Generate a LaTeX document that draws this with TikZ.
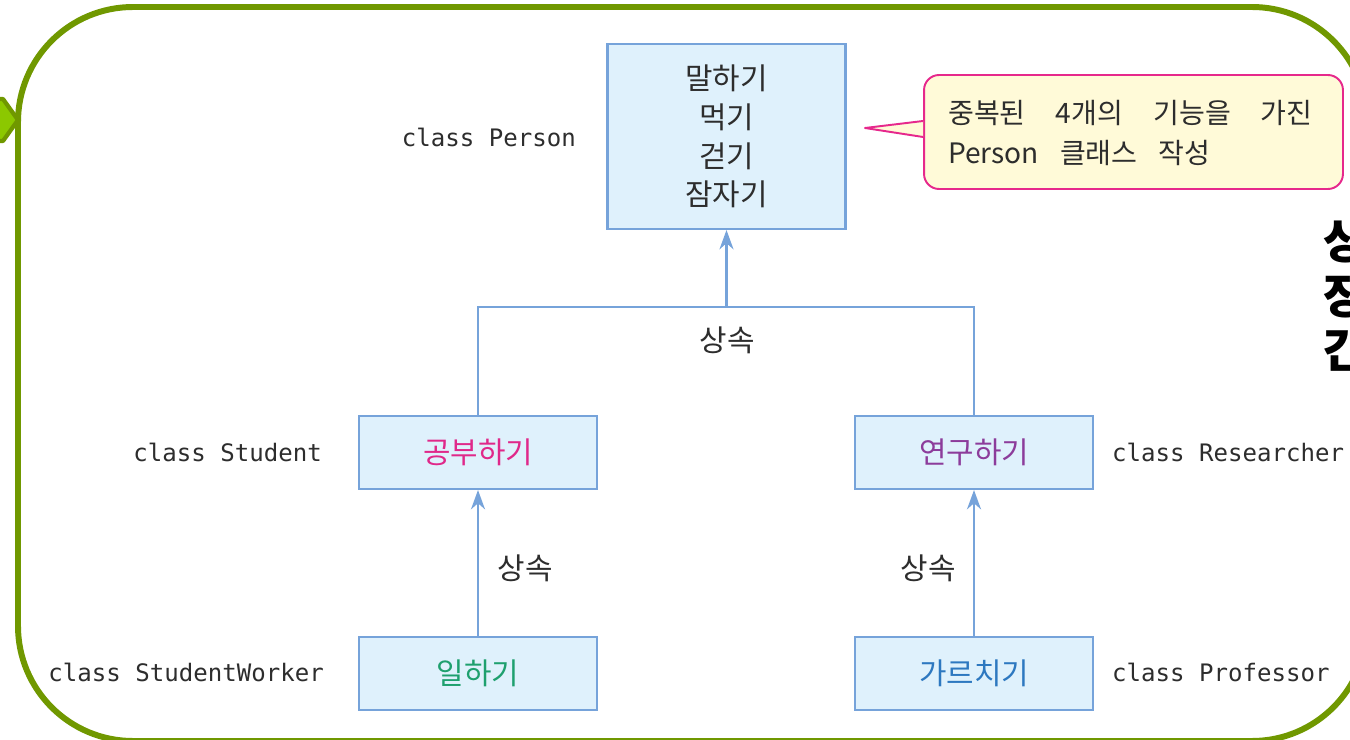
\documentclass[tikz,border=0pt]{standalone}
\usepackage{fontspec}
\setmainfont{Noto Sans CJK KR}
\setmonofont{DejaVu Sans Mono}
\usetikzlibrary{arrows.meta}
\definecolor{frameGreen}{RGB}{112,152,0}
\definecolor{arrowGreen}{RGB}{140,200,0}
\definecolor{boxFill}{RGB}{223,241,252}
\definecolor{boxLine}{RGB}{118,163,218}
\definecolor{inkGray}{RGB}{45,45,45}
\definecolor{notePink}{RGB}{230,40,140}
\definecolor{noteYellow}{RGB}{255,250,216}
\definecolor{studyPink}{RGB}{224,40,138}
\definecolor{researchPurple}{RGB}{140,60,155}
\definecolor{workGreen}{RGB}{30,160,110}
\definecolor{teachBlue}{RGB}{45,120,192}
\newcommand*{\BoxFont}{\fontsize{17}{22}\selectfont}
\newcommand*{\wgap}{\hspace{0.75em}}
\newcommand*{\wgapwide}{\hspace{1.07em}}
\newcommand*{\ClassBoxes}[1]{% #1 = list of name/x/y/color/text
  \foreach \name/\x/\y/\clr/\lbl in {#1} {
    \node [classbox, text=\clr] (\name) at (\x,\y) {\lbl};
    }%
}
\newcommand*{\ClassNames}[1]{% #1 = list of name/x/y/anchor/text
  \foreach \name/\x/\y/\anc/\lbl in {#1} {
    \node [classname, anchor=\anc] (\name) at (\x,\y) {\lbl};
    }%
}

\begin{document}
\begin{tikzpicture}[x=0.02cm, y=-0.02cm,
    classbox/.style={draw=boxLine, fill=boxFill, line width=1.2pt,
      minimum width=4.76cm, minimum height=1.46cm, font=\BoxFont},
    classname/.style={text=inkGray, font=\ttfamily\fontsize{13.7}{16}\selectfont},
    link/.style={draw=boxLine, line width=1.2pt},
    inherit/.style={link, -{Stealth[length=11pt, width=8pt, inset=3.5pt]}},
    extends/.style={text=inkGray, font=\BoxFont}]
    \useasboundingbox (0,0) rectangle (1350,740);

    % frame and side arrow
    \draw[frameGreen, line width=3.4pt, rounded corners=2.3cm] (18,7) rectangle (1367,741);
    \draw[frameGreen, fill=arrowGreen, line width=2.4pt, line join=round]
      (-12,99) -- (3,99) -- (18,120) -- (3,141) -- (-12,141) -- cycle;

    % class boxes
    \node [classbox, minimum height=3.7cm, text=inkGray, align=center]
      (person) at (726.5,136.5) {말하기\\먹기\\걷기\\잠자기};
    \ClassBoxes{student/478/452.5/studyPink/공부하기,
      researcher/974/452.5/researchPurple/연구하기,
      worker/478/673.5/workGreen/일하기,
      professor/974/673.5/teachBlue/가르치기}

    \ClassNames{nPerson/582/137/east/class Person,
      nStudent/328/452/east/class Student,
      nWorker/330/672/east/class StudentWorker,
      nResearcher/1106/452/west/class Researcher,
      nProfessor/1106/672/west/class Professor}

    % inheritance
    \coordinate (join) at (726.5,307);
    \draw[link] (student.north) |- (join) -| (researcher.north);
    \draw[inherit] (join) -- (person.south);
    \draw[inherit] (worker.north) -- (student.south);
    \draw[inherit] (professor.north) -- (researcher.south);
    \node[extends] (e1) at (727,340) {상속};
    \node[extends] (e2) at (525,568) {상속};
    \node[extends] (e3) at (928,568) {상속};

    % note
    \node[draw=notePink, fill=noteYellow, line width=1.1pt, rounded corners=0.3cm,
      minimum width=8.38cm, minimum height=2.28cm] (note) at (1133.5,132) {};
    \coordinate (tip) at (865,128);
    \draw[notePink, fill=noteYellow, line width=1.1pt, line join=round]
      (note.west |- 0,121) -- (tip) -- (note.west |- 0,137);
    \fill[noteYellow] (925.5,122.2) rectangle (928,135.8);
    \node[anchor=west, align=left, text=inkGray, font=\fontsize{16}{22.7}\selectfont]
      (notetext) at (942,133) {중복된\wgapwide 4개의\wgapwide 기능을\wgapwide 가진\\Person\wgap 클래스\wgap 작성};

    % cut-off side text
    \node[anchor=west, align=left, font=\bfseries\fontsize{27}{31.2}\selectfont]
      (side) at (1317,295) {상\\장\\간};
\end{tikzpicture}
\end{document}
